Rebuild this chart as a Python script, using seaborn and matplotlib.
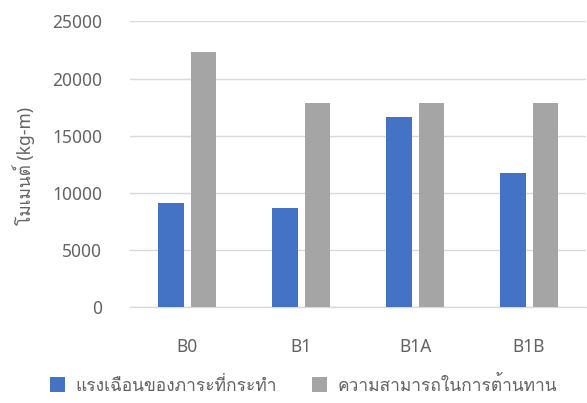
import matplotlib
matplotlib.use("Agg")
import matplotlib.pyplot as plt
from matplotlib import font_manager
from matplotlib.ft2font import FT2Font
from matplotlib.patches import Patch
import pandas as pd
import seaborn as sns

# Beam sections and the two moment series (kg-m)
sections = ["B0", "B1", "B1A", "B1B"]
applied_moment = [9100, 8700, 16600, 11700]
moment_capacity = [22300, 17900, 17900, 17900]
series_names = ["แรงเฉือนของภาระที่กระทำ", "ความสามารถในการต้านทาน"]
y_ticks = [0, 5000, 10000, 15000, 20000, 25000]
y_label = "โมเมนต์ (kg-m)"

colors = {series_names[0]: "#4472C4", series_names[1]: "#A5A5A5"}
text_color = "#636363"
grid_color = "#D9D9D9"


def thai_family():
    """Return the name of an installed font that has Thai glyphs, if any."""
    seen = set()
    for entry in font_manager.fontManager.ttflist:
        if entry.fname in seen:
            continue
        seen.add(entry.fname)
        try:
            cmap = FT2Font(entry.fname).get_charmap()
        except Exception:
            continue
        if ord("ก") in cmap and ord("ม") in cmap:
            return entry.name
    return None


sns.set_theme(style="white")
families = ["Noto Sans"]
tf = thai_family()
if tf:
    families.append(tf)
families.append("DejaVu Sans")
plt.rcParams["font.family"] = families

df = pd.DataFrame({
    "section": sections * 2,
    "value": applied_moment + moment_capacity,
    "series": [series_names[0]] * len(sections) + [series_names[1]] * len(sections),
})

fig = plt.figure(figsize=(5.87, 4.03), dpi=100)
ax = fig.add_axes([0.2215, 0.2375, 0.777, 0.7095])

sns.barplot(data=df, x="section", y="value", hue="series", order=sections,
            hue_order=series_names, palette=colors, saturation=1,
            width=0.569, gap=0.215, linewidth=0, errorbar=None,
            legend=False, ax=ax, zorder=3)

ax.set_ylim(0, 25000)
ax.set_xlim(-0.5, len(sections) - 0.5)
ax.set_yticks(y_ticks)
ax.set_yticklabels([str(t) for t in y_ticks])
ax.grid(axis="y", color=grid_color, linewidth=1.0, zorder=0)
ax.grid(axis="x", visible=False)
for side in ["top", "right", "left"]:
    ax.spines[side].set_visible(False)
ax.spines["bottom"].set_color(grid_color)
ax.spines["bottom"].set_linewidth(1.0)
ax.tick_params(axis="y", length=0, pad=20, labelsize=12.5, labelcolor=text_color)
ax.tick_params(axis="x", length=0, pad=22, labelsize=12.5, labelcolor=text_color)
ax.set_xlabel("")
ax.set_ylabel("")

fig.text(24 / 587, 1 - 166 / 403, y_label, rotation=90, ha="center",
         va="center", fontsize=12.5, color=text_color)

handles = [Patch(facecolor=colors[s], edgecolor="none", label=s) for s in series_names]
fig.legend(handles=handles, loc="center", bbox_to_anchor=(0.517, 1 - 385 / 403),
           ncol=2, frameon=False, fontsize=12.5, handlelength=0.9,
           handleheight=0.9, handletextpad=0.6, columnspacing=2.0,
           labelcolor=text_color)

fig.savefig("out.png", dpi=100)
